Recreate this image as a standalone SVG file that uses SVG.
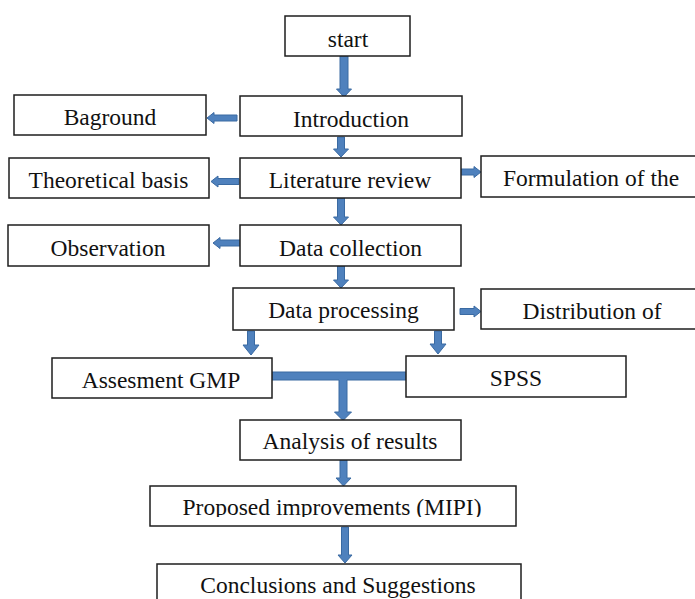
<svg xmlns="http://www.w3.org/2000/svg" width="695" height="599" viewBox="0 0 695 599">
<style>
.box{fill:#fff;stroke:#1e1e1e;stroke-width:1.5}
.t{font-family:"Liberation Serif","Times New Roman",serif;font-size:23.5px;fill:#111;text-anchor:middle}
.a{fill:#4f81bd;stroke:#3a6aa2;stroke-width:1}
</style>
<defs>
<clipPath id="clipP"><rect x="150" y="486" width="366" height="31"/></clipPath>
</defs>
<rect width="695" height="599" fill="#fff"/>
<g id="connectors">
<polygon class="a" points="340,56 348,56 348,89 351.5,89 344,97 336.5,89 340,89"/>
<polygon class="a" points="337.5,137 344.5,137 344.5,149 348.5,149 341,157 333.5,149 337.5,149"/>
<polygon class="a" points="337.5,198 344.5,198 344.5,217 348.5,217 341,225 333.5,217 337.5,217"/>
<polygon class="a" points="337.5,266 344.5,266 344.5,280 348.5,280 341,288 333.5,280 337.5,280"/>
<polygon class="a" points="247.5,331 254.5,331 254.5,345 259,345 251,355 243,345 247.5,345"/>
<polygon class="a" points="434.5,331 441.5,331 441.5,344 446,344 438,354 430,344 434.5,344"/>
<polygon class="a" points="272,372 406,372 406,380 347,380 347,412 351.5,412 343,420.5 334.5,412 339,412 339,380 272,380"/>
<polygon class="a" points="340,460 347,460 347,478 351,478 343.5,486 336,478 340,478"/>
<polygon class="a" points="341.5,527 348.5,527 348.5,555 352,555 345,563 338,555 341.5,555"/>
<polygon class="a" points="237,115 214,115 214,112.5 207,118 214,123.5 214,121 237,121"/>
<polygon class="a" points="239,178.5 218,178.5 218,176 211,181.5 218,187 218,184.5 239,184.5"/>
<polygon class="a" points="241,240 220,240 220,237.5 213,243 220,248.5 220,246 241,246"/>
<polygon class="a" points="460,169 474,169 474,166.5 481,172 474,177.5 474,175 460,175"/>
<polygon class="a" points="460,308.5 474,308.5 474,306 481,311.5 474,317 474,314.5 460,314.5"/>
</g>
<g id="start"><rect class="box" x="285" y="16" width="125" height="40"/><text class="t" x="348" y="47">start</text></g>
<g id="introduction"><rect class="box" x="240" y="96" width="222" height="40"/><text class="t" x="351" y="127">Introduction</text></g>
<g id="baground"><rect class="box" x="14" y="95" width="192" height="40"/><text class="t" x="110" y="125">Baground</text></g>
<g id="literature"><rect class="box" x="240" y="158" width="221" height="40"/><text class="t" x="350" y="188">Literature review</text></g>
<g id="theoretical"><rect class="box" x="9" y="158" width="200" height="40"/><text class="t" x="108.5" y="188">Theoretical basis</text></g>
<g id="formulation"><rect class="box" x="481" y="156" width="220" height="41"/><text class="t" x="591" y="186">Formulation of the</text></g>
<g id="datacollection"><rect class="box" x="240" y="225" width="221" height="41"/><text class="t" x="350.5" y="256">Data collection</text></g>
<g id="observation"><rect class="box" x="8" y="225" width="201" height="41"/><text class="t" x="108" y="256">Observation</text></g>
<g id="dataprocessing"><rect class="box" x="233" y="288" width="221" height="42"/><text class="t" x="343.5" y="318">Data processing</text></g>
<g id="distribution"><rect class="box" x="481" y="289" width="220" height="40"/><text class="t" x="592" y="319">Distribution of</text></g>
<g id="assesment"><rect class="box" x="52" y="358" width="220" height="40"/><text class="t" x="161" y="388">Assesment GMP</text></g>
<g id="spss"><rect class="box" x="406" y="356" width="220" height="41"/><text class="t" x="516" y="386">SPSS</text></g>
<g id="analysis"><rect class="box" x="240" y="420" width="221" height="40"/><text class="t" x="350" y="449">Analysis of results</text></g>
<g id="proposed"><rect class="box" x="150" y="486" width="366" height="40"/><text class="t" x="332" y="515" clip-path="url(#clipP)">Proposed improvements (MIPI)</text></g>
<g id="conclusions"><rect class="box" x="157" y="564" width="364" height="50"/><text class="t" x="338" y="593">Conclusions and Suggestions</text></g>
</svg>
